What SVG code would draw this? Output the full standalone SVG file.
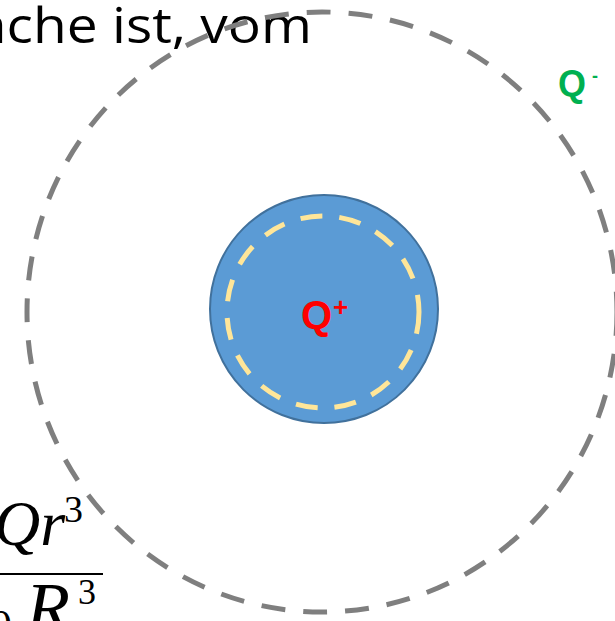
<svg xmlns="http://www.w3.org/2000/svg" width="615" height="621" viewBox="0 0 615 621">
<style>
.outer{fill:none;stroke:#7f7f7f;stroke-width:5;stroke-dasharray:24 18}
.inner{fill:none;stroke:#ffe699;stroke-width:5;stroke-dasharray:22 17}
.ball{fill:#5b9bd5;stroke:#41719c;stroke-width:2}
.lbl{font-family:"Liberation Sans",Arial,sans-serif;font-weight:bold}
.body{font-family:"Open Sans","Liberation Sans",sans-serif;fill:#000}
.math{font-family:"Liberation Serif","Times New Roman",serif;fill:#000}
</style>
<rect width="615" height="621" fill="#fff"/>
<text class="body" x="-24" y="43" font-size="50" textLength="336" lengthAdjust="spacingAndGlyphs">ache ist, vom</text>
<g id="formula">
<text class="math" y="545" font-size="64"><tspan x="-6" font-style="italic">Qr</tspan><tspan x="64" y="522" font-size="38">3</tspan></text>
<line x1="0" y1="574" x2="103" y2="574" stroke="#000" stroke-width="2.2"/>
<text class="math" font-size="72"><tspan x="-10" y="640" font-size="44">0</tspan><tspan x="26" y="632" font-style="italic">R</tspan><tspan x="78" y="604" font-size="36">3</tspan><tspan x="70" y="650" font-size="40" font-style="italic">K</tspan></text>
</g>
<g id="sphere-outer">
<ellipse class="outer" cx="322" cy="312" rx="295" ry="300"/>
<text class="lbl" x="558" y="96" font-size="36" fill="#00b050">Q<tspan x="592" y="82" font-size="18">-</tspan></text>
</g>
<g id="sphere-inner">
<circle class="ball" cx="324" cy="309" r="114"/>
<circle class="inner" cx="323" cy="312" r="96"/>
<text class="lbl" x="301" y="329" font-size="40" fill="#ff0000">Q<tspan x="333" y="316" font-size="26">+</tspan></text>
</g>
</svg>
